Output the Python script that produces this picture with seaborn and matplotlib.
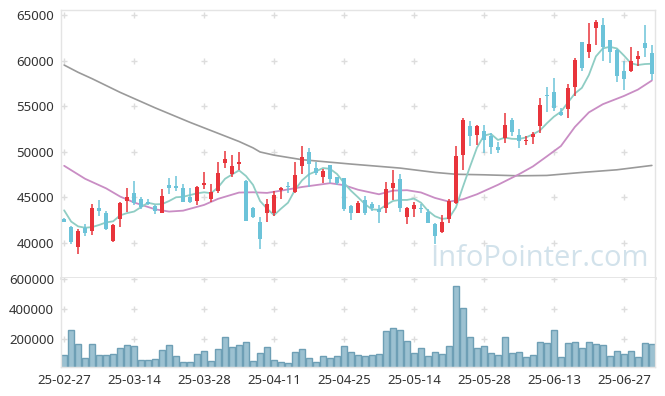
import matplotlib
matplotlib.use("Agg")
import matplotlib.pyplot as plt
import numpy as np
import pandas as pd
import seaborn as sns

# daily candles
opens = [42578, 41657, 39521, 41620, 41289, 43794, 43204, 40184, 42541, 44567,
         45451, 44788, 44457, 44015, 43278, 46298, 46225, 45967, 45009, 44604,
         46372, 44788, 45672, 48766, 47551, 48582, 46777, 43757, 42284, 43278,
         43278, 45783, 46225, 45598, 48361, 49982, 48177, 47145, 48545, 47182,
         47072, 44015, 43278, 44678, 44199, 43683, 43757, 45967, 46998, 42836,
         43646, 43794, 43315, 42026, 41179, 42541, 44309, 49576, 52854, 51786,
         52302, 51676, 50460, 51492, 53444, 51860, 51123, 51565, 52854, 56169,
         56538, 54328, 54622, 57090, 62063, 60958, 63573, 63904, 62247, 61142,
         58858, 58858, 60147, 61878, 60810]
highs = [42700, 41805, 41436, 41989, 44199, 44678, 43499, 42026, 44494, 45967,
         46777, 45046, 44751, 44125, 45856, 47072, 47330, 46409, 45967, 46225,
         47735, 46409, 48840, 50092, 49613, 49945, 46888, 43941, 42762, 44788,
         45709, 46077, 46630, 48840, 50644, 50387, 48803, 48066, 48545, 47182,
         47072, 44125, 44567, 45120, 44494, 44125, 46703, 47919, 47514, 43941,
         44494, 44236, 43646, 42173, 43020, 44788, 50571, 53701, 53407, 52965,
         52965, 52044, 51050, 54180, 53628, 52523, 51676, 52118, 55838, 57127,
         58048, 54807, 57385, 60221, 62063, 64125, 64457, 64641, 62247, 61252,
         59963, 61436, 61068, 63941, 61731]
lows = [42200, 39816, 38785, 40700, 40773, 42910, 41363, 40110, 41731, 43352,
        44125, 43720, 44125, 43094, 43204, 45304, 45709, 44420, 44383, 44125,
        45856, 44494, 45488, 48177, 47182, 47993, 42357, 42689, 39337, 42210,
        42947, 44751, 45488, 45488, 47551, 46151, 47366, 46593, 46519, 46335,
        43499, 42468, 43204, 43020, 43499, 42173, 43278, 44678, 43389, 41989,
        42836, 43204, 42173, 39890, 41068, 42173, 44200, 47992, 50571, 50681,
        49834, 49724, 49834, 50939, 51676, 50387, 50755, 50865, 52044, 54328,
        54438, 53886, 53628, 56096, 58858, 60221, 61694, 59963, 59779, 57680,
        56722, 58748, 59411, 60331, 57827]
closes = [42284, 40074, 41289, 41068, 43757, 43462, 41473, 41878, 44346, 45009,
          44309, 43941, 44236, 43499, 45120, 46004, 46004, 44494, 44457, 46077,
          46556, 45525, 47661, 49208, 48435, 48803, 42394, 42799, 40368, 44236,
          45230, 45967, 46077, 47440, 49429, 48582, 47587, 47882, 46998, 46593,
          43683, 43278, 44309, 43204, 43757, 43389, 45893, 46593, 43757, 43757,
          44125, 43646, 42173, 40737, 42284, 44567, 49540, 53517, 51676, 52781,
          51234, 50460, 50203, 52965, 52118, 51123, 51308, 51934, 55064, 56096,
          54733, 53996, 57017, 60037, 59190, 61805, 64199, 61436, 60884, 58306,
          57937, 59963, 60442, 61399, 58490]
volumes = [93300, 260000, 166700, 73300, 166700, 93300, 93300, 100000, 140000, 160000,
           153300, 60000, 60000, 66700, 126700, 160000, 86700, 46700, 46700, 100000,
           120000, 53300, 133300, 213300, 146700, 160000, 180000, 53300, 106700, 146700,
           60000, 46700, 40000, 113300, 133300, 73300, 46700, 86700, 73300, 86700,
           153300, 113300, 93300, 86700, 93300, 100000, 253300, 273300, 260000, 186700,
           106700, 140000, 86700, 113300, 100000, 153300, 553300, 406700, 213300, 140000,
           153300, 106700, 93300, 213300, 106700, 113300, 80000, 93300, 180000, 173300,
           260000, 80000, 173300, 180000, 140000, 180000, 166700, 160000, 86700, 120000,
           100000, 120000, 80000, 173300, 166700]
# closes before the window, estimated from where the 5-day line starts
prior_closes = [46250, 43950, 41800, 43400]

# 20-day and 120-day averages read at points along the lines
ma20_day = [0, 3, 6, 8, 10, 13, 15, 17, 20, 22, 25, 27, 29, 31, 34, 38, 40, 42, 45,
            47, 49, 51, 53, 55, 57, 59, 62, 65, 67, 69, 71, 73, 75, 77, 80, 82, 84]
ma20_val = [48430, 47000, 45950, 45050, 44400, 43650, 43400, 43500, 44130, 44800,
            45490, 45520, 45450, 45700, 46100, 46520, 46300, 45800, 45300, 45700,
            45750, 45500, 44900, 44490, 44750, 45300, 46340, 47500, 48360, 49470,
            50600, 52700, 54300, 55200, 56100, 56800, 57800]
ma120_day = [0, 2, 4, 8, 13, 18, 22, 25, 27, 28, 30, 34, 41, 48, 53, 56, 60, 65,
             69, 74, 79, 84]
ma120_val = [59500, 58700, 58000, 56500, 54800, 53200, 52000, 51100, 50400, 49950,
             49600, 49100, 48620, 48180, 47700, 47500, 47440, 47330, 47370, 47700,
             47990, 48470]

tick_days = [0, 10, 20, 30, 40, 50, 60, 70, 80]
tick_labels = ["25-02-27", "25-03-14", "25-03-28", "25-04-11", "25-04-25",
               "25-05-14", "25-05-28", "25-06-13", "25-06-27"]
price_ticks = [40000, 45000, 50000, 55000, 60000, 65000]
vol_ticks = [200000, 400000, 600000]

df = pd.DataFrame({"open": opens, "high": highs, "low": lows,
                   "close": closes, "volume": volumes})
df["day"] = np.arange(len(df))
all_closes = pd.Series(prior_closes + closes)
df["ma5"] = all_closes.rolling(5).mean().iloc[len(prior_closes):].values

sns.set_theme(style="white")
plt.rcParams["font.family"] = ["Noto Sans", "DejaVu Sans"]

fig = plt.figure(figsize=(6.65, 3.96), dpi=100)
ax = fig.add_axes([61 / 665, 1 - 278 / 396, 594 / 665, 268 / 396])
axv = fig.add_axes([61 / 665, 1 - 367 / 396, 594 / 665, 89 / 396])

RED = "#e8343b"
BLUE = "#6cc3d9"

# watermark
ax.text(0.622, 0.045, "InfoPointer.com", transform=ax.transAxes,
        fontsize=21, color="#d2e2eb", family="Open Sans", zorder=0)

# plus-shaped grid marks
gx, gy = np.meshgrid(tick_days, price_ticks)
ax.plot(gx.ravel(), gy.ravel(), "+", color="#dddddd", ms=5, mew=1, zorder=1)
gx, gy = np.meshgrid(tick_days, vol_ticks)
axv.plot(gx.ravel(), gy.ravel(), "+", color="#dddddd", ms=5, mew=1, zorder=1)

# moving averages
sns.lineplot(x=ma120_day, y=ma120_val, ax=ax, color="#9a9a9a", lw=1.2, zorder=2)
sns.lineplot(x=ma20_day, y=ma20_val, ax=ax, color="#c98dc4", lw=1.3, zorder=2)
sns.lineplot(data=df, x="day", y="ma5", ax=ax, color="#8fcdc4", lw=1.3, zorder=2)

# candles
up = df["close"] >= df["open"]
colors = np.where(up, RED, BLUE)
ax.vlines(df["day"], df["low"], df["high"], colors=colors, lw=1.1, zorder=3)
body_lo = df[["open", "close"]].min(axis=1)
body_h = (df["close"] - df["open"]).abs().clip(lower=60)
ax.bar(df["day"], body_h, bottom=body_lo, width=0.6, color=colors, lw=0, zorder=4)

# volume
sns.barplot(data=df, x="day", y="volume", ax=axv, color="#9cc1d1",
            edgecolor="#6e9fb5", linewidth=1, width=0.86, saturation=1, zorder=2)

for a in (ax, axv):
    a.set_xlim(-0.45, 84.45)
    a.set_xlabel("")
    a.set_ylabel("")
    a.tick_params(length=0, labelsize=9.5, labelcolor="#333333", pad=5)
    for s in a.spines.values():
        s.set_color("#e4e4e4")
        s.set_linewidth(1)

ax.set_ylim(36100, 65550)
ax.set_yticks(price_ticks)
ax.set_yticklabels([str(v) for v in price_ticks])
ax.set_xticks([])
ax.spines["bottom"].set_linewidth(2)

axv.set_ylim(15300, 608700)
axv.set_yticks(vol_ticks)
axv.set_yticklabels([str(v) for v in vol_ticks])
axv.set_xticks(tick_days)
axv.set_xticklabels(tick_labels)
axv.spines["top"].set_visible(False)

fig.savefig("out.png", dpi=100)
